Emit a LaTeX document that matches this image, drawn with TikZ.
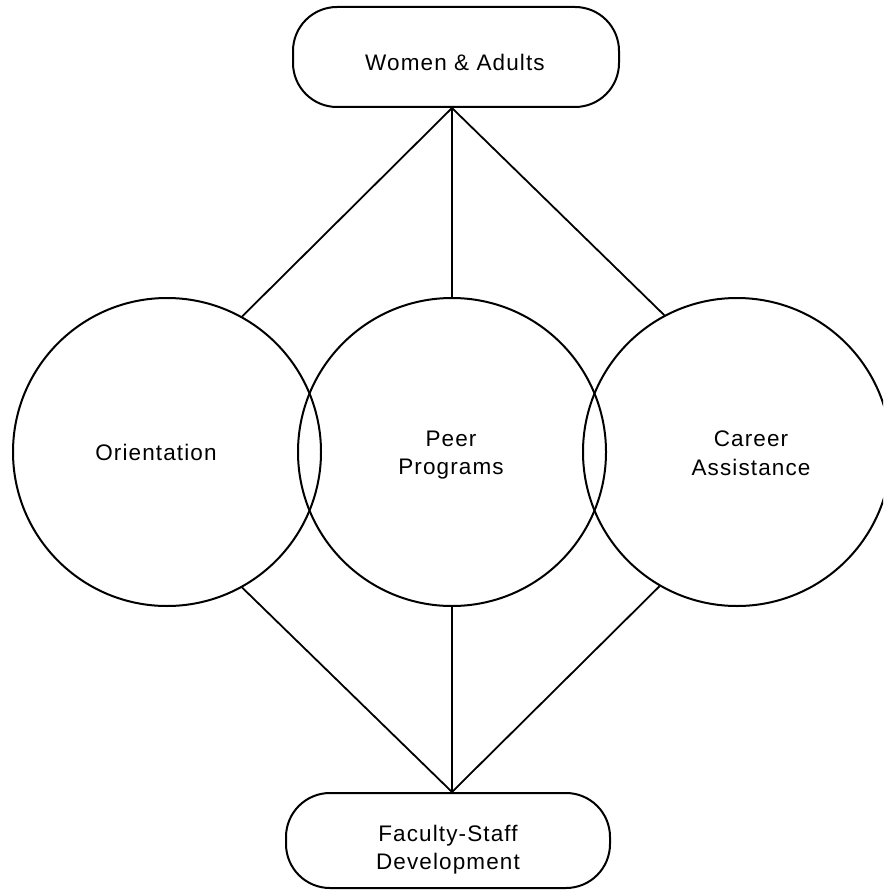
\documentclass[tikz,border=0pt]{standalone}
\usepackage{fontspec}
\setmainfont{Liberation Sans}[LetterSpace=5]
\begin{document}
\begin{tikzpicture}[x=1pt,y=-1pt,line width=2pt,
  ring/.style={circle,draw,minimum size=308pt,inner sep=0pt},
  pill/.style={draw,rectangle,rounded corners=44pt,inner sep=0pt},
  lbl/.style={inner sep=0pt,anchor=north,align=center,
    font=\fontsize{22.5}{28.5}\selectfont},
  link/.style={line width=1.8pt}]
\useasboundingbox (0,0) rectangle (883,890);
\clip (0,0) rectangle (883,890);

% top and bottom boxes
\node[pill,minimum width=326pt,minimum height=100pt] (wa) at (456,57) {};
\node[lbl] (walabel) at (455,53) {Women \& Adults};
\node[pill,minimum width=324pt,minimum height=95pt] (fs) at (448,840.5) {};
\node[lbl] (fslabel) at (448,824) {Faculty-Staff\\Development};

% the three overlapping circles
\node[ring] (ori) at (167,452) {};
\node[ring] (peer) at (452,452) {};
\node[ring] (car) at (737,452) {};
\node[lbl] (orilabel) at (156,443) {Orientation};
\node[lbl] (peerlabel) at (451,430) {Peer\\Programs};
\node[lbl] (carlabel) at (751,430) {Career\\Assistance};

% junction points on the boxes
\coordinate (jt) at (peer |- wa.south);
\coordinate (jb) at (peer |- fs.north);

% connectors
\draw[link] (jt) -- (ori.61);
\draw[link] (jt) -- (peer.north);
\draw[link] (jt) -- (car.118);
\draw[link] (jb) -- (ori.-61.5);
\draw[link] (jb) -- (peer.south);
\draw[link] (jb) -- (car.-120);
\end{tikzpicture}
\end{document}
